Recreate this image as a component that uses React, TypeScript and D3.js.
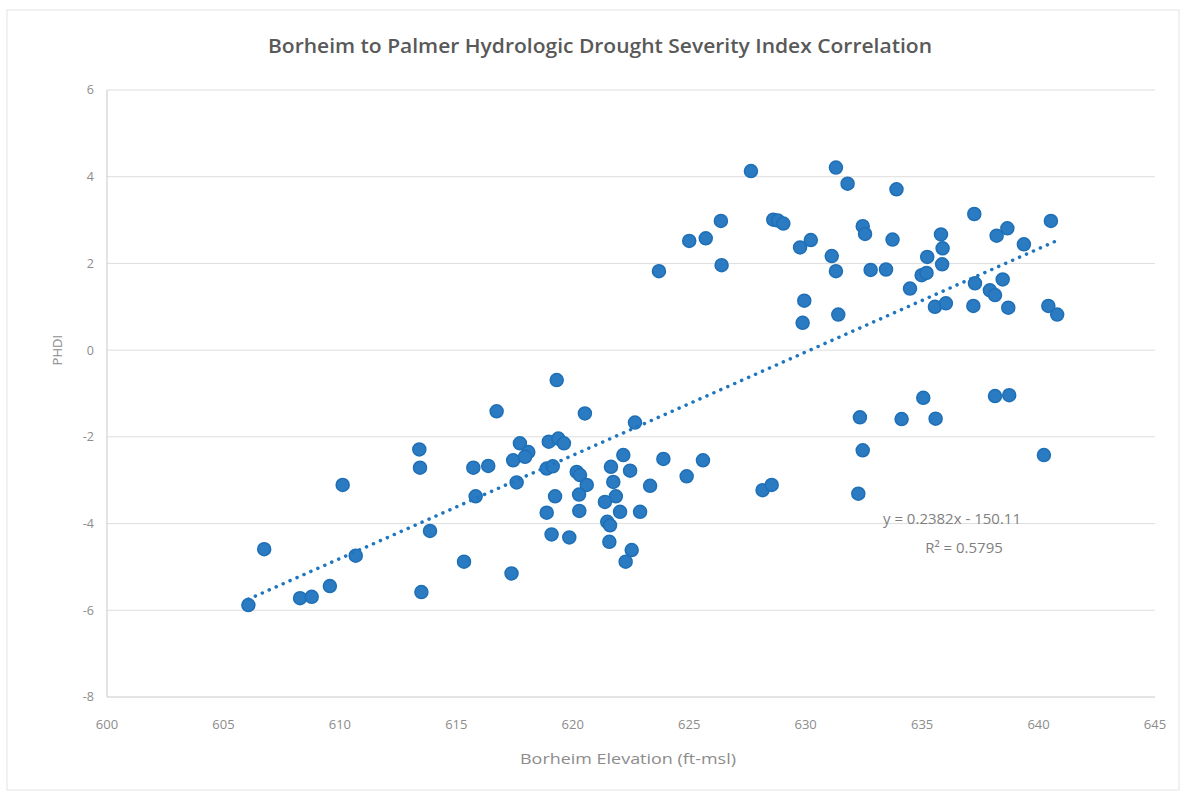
import React from 'react';
import * as d3 from 'd3';

const elevation = [
  606.07, 606.75, 608.29, 608.79, 609.57, 610.68, 610.12, 613.41, 613.44, 613.87,
  613.5, 615.33, 615.73, 616.37, 615.83, 616.73, 619.31, 620.52, 622.67, 617.73,
  618.09, 617.44, 617.95, 618.97, 619.38, 619.62, 617.59, 618.88, 619.14, 620.17,
  620.31, 620.6, 620.27, 619.24, 618.88, 620.28, 619.09, 619.85, 622.17, 622.46,
  621.64, 621.74, 621.85, 621.38, 622.03, 622.89, 621.48, 621.6, 621.57, 622.53,
  622.27, 623.32, 623.89, 624.89, 617.37, 625.59, 628.15, 628.54, 627.65, 631.3,
  631.8, 633.9, 626.36, 625.0, 625.71, 623.7, 626.39, 628.61, 628.81, 629.04,
  629.76, 630.22, 631.12, 631.3, 632.45, 632.55, 633.73, 632.79, 633.45, 629.94,
  629.87, 631.4, 637.24, 640.53, 638.2, 638.66, 639.37, 635.81, 635.88, 635.22,
  634.98, 635.19, 635.86, 634.48, 637.27, 637.91, 638.13, 638.46, 635.55, 636.02,
  637.2, 638.7, 640.42, 640.8, 632.33, 634.12, 635.05, 635.58, 638.13, 638.74,
  632.45, 640.23, 632.26,
];

const phdi = [
  -5.88, -4.59, -5.72, -5.69, -5.44, -4.74, -3.11, -2.29, -2.71, -4.17,
  -5.58, -4.88, -2.71, -2.67, -3.37, -1.41, -0.69, -1.46, -1.67, -2.15,
  -2.35, -2.54, -2.46, -2.11, -2.04, -2.15, -3.05, -2.73, -2.68, -2.81,
  -2.88, -3.11, -3.33, -3.37, -3.75, -3.71, -4.25, -4.32, -2.42, -2.78,
  -2.69, -3.04, -3.37, -3.5, -3.73, -3.73, -3.96, -4.04, -4.42, -4.61,
  -4.88, -3.13, -2.51, -2.91, -5.15, -2.54, -3.23, -3.11, 4.13, 4.21,
  3.84, 3.71, 2.98, 2.52, 2.58, 1.82, 1.96, 3.01, 2.99, 2.92,
  2.37, 2.54, 2.17, 1.82, 2.86, 2.68, 2.55, 1.85, 1.86, 1.14,
  0.63, 0.82, 3.14, 2.98, 2.64, 2.81, 2.44, 2.67, 2.35, 2.15,
  1.73, 1.78, 1.98, 1.42, 1.54, 1.38, 1.27, 1.63, 1.0, 1.08,
  1.02, 0.98, 1.02, 0.82, -1.55, -1.59, -1.1, -1.58, -1.06, -1.04,
  -2.31, -2.42, -3.31,
];

const xTicks = [600, 605, 610, 615, 620, 625, 630, 635, 640, 645];
const yTicks = [-8, -6, -4, -2, 0, 2, 4, 6];

// trendline from the chart's label
const slope = 0.2382;
const intercept = -150.11;

const W = 1184;
const H = 802;
const margin = { top: 90, right: 29, bottom: 105, left: 107 };

const blue = '#2b7bc2';
const textGray = '#8c8c8c';
const font = "'Open Sans', 'Liberation Sans', sans-serif";

export default function App() {
  const x = d3.scaleLinear().domain([600, 645]).range([margin.left, W - margin.right]);
  const y = d3.scaleLinear().domain([-8, 6]).range([H - margin.bottom, margin.top]);

  const points = elevation.map((e, i) => ({ e, p: phdi[i] }));
  const [xMin, xMax] = d3.extent(elevation) as [number, number];
  const trend = d3.line<number>()
    .x(d => x(d))
    .y(d => y(slope * d + intercept))([xMin, xMax]);

  return (
    <svg width={W} height={H} style={{ position: 'absolute', left: 0, top: 0, background: '#fff' }}>
      <rect x={7} y={10} width={1172} height={780} fill="none" stroke="#e4e4e4" strokeWidth={1} />

      <text x={600} y={53} textAnchor="middle" fontFamily={font} fontWeight={600} fontSize={20} fill="#595959"
        textLength={664} lengthAdjust="spacingAndGlyphs">
        Borheim to Palmer Hydrologic Drought Severity Index Correlation
      </text>

      {yTicks.map(t => (
        <g key={t}>
          {t !== -8 && (
            <line x1={margin.left} x2={W - margin.right} y1={y(t)} y2={y(t)} stroke="#dedede" strokeWidth={1} />
          )}
          <text x={margin.left - 13} y={y(t)} dy="0.35em" textAnchor="end" fontFamily={font} fontSize={12.5} fill={textGray}>
            {t}
          </text>
        </g>
      ))}

      <line x1={margin.left} x2={margin.left} y1={margin.top} y2={H - margin.bottom} stroke="#c8c8c8" />
      <line x1={margin.left} x2={W - margin.right} y1={H - margin.bottom} y2={H - margin.bottom} stroke="#c8c8c8" />

      {xTicks.map(t => (
        <text key={t} x={x(t)} y={H - margin.bottom + 32} textAnchor="middle" fontFamily={font} fontSize={13} fill={textGray}>
          {t}
        </text>
      ))}

      <text x={628} y={764} textAnchor="middle" fontFamily={font} fontSize={15} fill={textGray}
        textLength={216} lengthAdjust="spacingAndGlyphs">
        Borheim Elevation (ft-msl)
      </text>
      <text transform={`translate(62, ${y(0)}) rotate(-90)`} textAnchor="middle" fontFamily={font} fontSize={13} fill={textGray}>
        PHDI
      </text>

      {points.map((d, i) => (
        <circle key={i} cx={x(d.e)} cy={y(d.p)} r={6.5} fill={blue} stroke="#1f6fb6" strokeWidth={1.5} />
      ))}

      <path d={trend || ''} fill="none" stroke="#1f76c0" strokeWidth={3.5} strokeLinecap="round" strokeDasharray="0.1 7.5" />

      <text x={952} y={524} textAnchor="middle" fontFamily={font} fontSize={15} fill="#7f7f7f">
        y = 0.2382x - 150.11
      </text>
      <text x={964} y={553} textAnchor="middle" fontFamily={font} fontSize={15} fill="#7f7f7f">
        R² = 0.5795
      </text>
    </svg>
  );
}
